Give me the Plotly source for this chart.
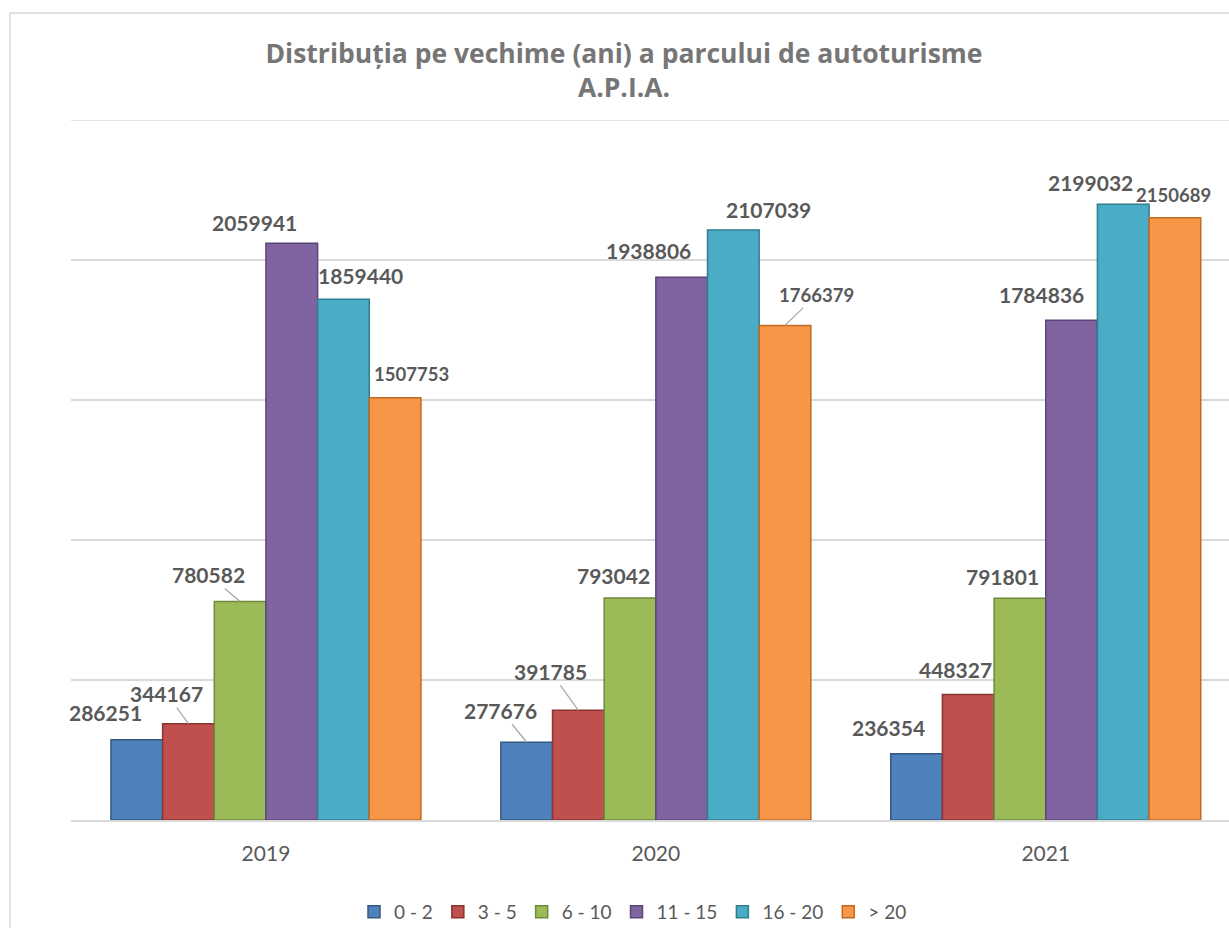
import plotly.graph_objects as go

years = ["2019", "2020", "2021"]
series_names = ["0 - 2", "3 - 5", "6 - 10", "11 - 15", "16 - 20", "> 20"]
v_0_2 = [286251, 277676, 236354]
v_3_5 = [344167, 391785, 448327]
v_6_10 = [780582, 793042, 791801]
v_11_15 = [2059941, 1938806, 1784836]
v_16_20 = [1859440, 2107039, 2199032]
v_gt20 = [1507753, 1766379, 2150689]
series_values = [v_0_2, v_3_5, v_6_10, v_11_15, v_16_20, v_gt20]

colors = ["#4F81BD", "#C0504D", "#9BBB59", "#8064A2", "#4BACC6", "#F79646"]
edges = ["#34587F", "#8A3432", "#6E8A3A", "#5A4678", "#317E92", "#C06A22"]

# label placement (pixel offsets of label centre from bar top), per series then per year
label_dx = [[-31, -26, -28], [-22, -28, -13], [-32, -17, -17], [-37, -33, -30], [17, 35, -33], [16, 31, -1]]
label_dy = [[-27, -32, -26], [-30, -39, -25], [-27, -22, -22], [-21, -27, -26], [-24, -21, -22], [-24, -30, -23]]
label_line = [[False, True, False], [True, True, False], [True, False, False],
              [False, False, False], [False, False, False], [False, True, False]]
label_small = [False, False, False, False, False, True]

W, H = 1229, 928
L, R, T, B = 71, 0, 120, 108
bargap = 0.205
FONT = "Lato, 'Open Sans', sans-serif"
TITLE_FONT = "'Open Sans', 'Noto Sans', sans-serif"

fig = go.Figure()
for name, vals, c, e in zip(series_names, series_values, colors, edges):
    fig.add_trace(go.Bar(
        x=years, y=vals, name=name,
        marker=dict(color=c, line=dict(color=e, width=1.5)),
    ))

bw = (1 - bargap) / len(series_names)
annotations = []
for j, vals in enumerate(series_values):
    for i, v in enumerate(vals):
        xpos = i + (j - (len(series_names) - 1) / 2) * bw
        annotations.append(dict(
            x=xpos, y=v, xref="x", yref="y",
            text=str(v), showarrow=True, arrowhead=0, arrowwidth=1.2,
            arrowcolor="#A6A6A6" if label_line[j][i] else "rgba(0,0,0,0)",
            ax=label_dx[j][i], ay=label_dy[j][i], standoff=0, startstandoff=0,
            font=dict(family=FONT, size=18.5 if label_small[j] else 21, color="#595959", weight="bold"),
        ))

fig.update_layout(
    width=W, height=H,
    margin=dict(l=L, r=R, t=T, b=B),
    paper_bgcolor="white", plot_bgcolor="white",
    barmode="group", bargap=bargap, bargroupgap=0,
    title=dict(
        text="<b>Distribuția pe vechime (ani) a parcului de autoturisme<br>A.P.I.A.</b>",
        x=624 / W, xanchor="center", xref="container",
        y=1 - 63 / H, yanchor="top", yref="container",
        font=dict(family=TITLE_FONT, size=26.5, color="#767676"),
    ),
    xaxis=dict(
        type="category", range=[-0.5, 2.47],
        showline=True, linecolor="#D9D9D9", linewidth=1.5,
        showgrid=False, ticks="", ticklabelstandoff=14,
        tickfont=dict(family=FONT, size=21, color="#595959"),
    ),
    yaxis=dict(
        range=[0, 2500000], dtick=500000, showticklabels=False,
        showgrid=True, gridcolor="#D9D9D9", gridwidth=1.5,
        zeroline=False, showline=False,
    ),
    legend=dict(
        orientation="h", x=633 / W, xanchor="center", xref="container",
        y=1 - 912 / H, yanchor="middle", yref="container",
        font=dict(family=FONT, size=19, color="#595959"),
        itemwidth=30, traceorder="normal",
    ),
    annotations=annotations,
    shapes=[
        dict(type="rect", xref="paper", yref="paper",
             x0=(10 - L) / (W - L - R), x1=1.2,
             y0=-0.5, y1=(H - B - 13) / (H - T - B),
             line=dict(color="#D9D9D9", width=1.5), layer="below"),
        dict(type="line", xref="paper", yref="y", x0=0, x1=1, y0=2500000, y1=2500000,
             line=dict(color="#D9D9D9", width=1.5), layer="below"),
    ],
    showlegend=True,
)

fig.write_html(
    "out.html",
    config={"displayModeBar": False},
    post_script="document.body.style.margin='0';document.body.style.overflow='hidden';",
)
